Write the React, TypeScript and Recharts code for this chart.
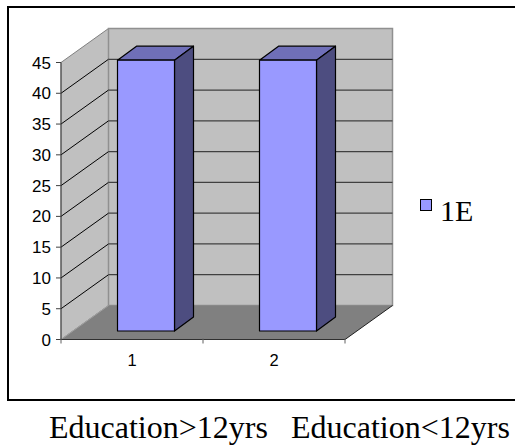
import { Bar, BarChart, CartesianGrid, Legend, XAxis, YAxis } from "recharts";

// Survey result per group, drawn as old-style 3D columns
const categories = ["1", "2"];
const seriesName = "1E";
const seriesValues = [44, 44];
const yTicks = [0, 5, 10, 15, 20, 25, 30, 35, 40, 45];
const groupLabels = ["Education>12yrs", "Education<12yrs"];

const data = categories.map((name, i) => ({ name, value: seriesValues[i] }));

// Depth of the chart box and how far into it the columns stand
const DEPTH_X = 47.5;
const DEPTH_Y = 34;
const BAR_DX = 13.5;
const BAR_DY = 8.5;
const BAR_DEPTH_X = 19;
const BAR_DEPTH_Y = 14;

const pts = (list: number[][]) => list.map((p) => p.join(",")).join(" ");

// Left wall, back wall and floor of the box, painted once behind the gridlines
const Walls = ({ x, y, width, height, index }: any) => {
  if (index !== 0) return null;
  const b = y + height;
  const r = x + width;
  return (
    <g>
      <polygon
        points={pts([[x, y], [x + DEPTH_X, y - DEPTH_Y], [x + DEPTH_X, b - DEPTH_Y], [x, b]])}
        fill="#c0c0c0"
        stroke="#808080"
      />
      <polygon
        points={pts([[x + DEPTH_X, y - DEPTH_Y], [r + DEPTH_X, y - DEPTH_Y], [r + DEPTH_X, b - DEPTH_Y], [x + DEPTH_X, b - DEPTH_Y]])}
        fill="#c0c0c0"
        stroke="#909090"
        strokeWidth={1.5}
      />
      <polygon
        points={pts([[x, b], [x + DEPTH_X, b - DEPTH_Y], [r + DEPTH_X, b - DEPTH_Y], [r, b]])}
        fill="#808080"
      />
      <line x1={x} y1={b} x2={x + DEPTH_X} y2={b - DEPTH_Y} stroke="#a0a0a0" />
      <line x1={r} y1={b} x2={r + DEPTH_X} y2={b - DEPTH_Y} stroke="#202020" />
    </g>
  );
};

// Gridline running along the left wall and across the back wall
const WallGridLine = ({ x1, x2, y1, y, height }: any) => {
  if (y1 <= y + 0.5 || y1 >= y + height - 0.5) return null;
  return (
    <g fill="none">
      <line x1={x1} y1={y1} x2={x1 + DEPTH_X} y2={y1 - DEPTH_Y} stroke="#000000" />
      <line x1={x1 + DEPTH_X} y1={y1 - DEPTH_Y} x2={x2 + DEPTH_X} y2={y1 - DEPTH_Y} stroke="#404040" strokeWidth={1.2} />
    </g>
  );
};

const Column3D = ({ x, y, width, height }: any) => {
  const fx = x + BAR_DX;
  const fy = y - BAR_DY;
  const r = fx + width;
  const b = fy + height;
  const dx = BAR_DEPTH_X;
  const dy = BAR_DEPTH_Y;
  return (
    <g stroke="#000000" strokeWidth={1.2} strokeLinejoin="round">
      <polygon points={pts([[fx, fy], [fx + dx, fy - dy], [r + dx, fy - dy], [r, fy]])} fill="#6f6fb8" />
      <polygon points={pts([[r, fy], [r + dx, fy - dy], [r + dx, b - dy], [r, b]])} fill="#4d4d80" />
      <rect x={fx} y={fy} width={width} height={height} fill="#9999ff" />
    </g>
  );
};

// Category tick: label under the middle of the band, tick marks on the band edges
const BandTick = ({ x, y, payload, index }: any) => {
  const half = 71;
  return (
    <g>
      <line x1={x - half} y1={y - 9} x2={x - half} y2={y - 4} stroke="#606060" />
      {index === categories.length - 1 && (
        <line x1={x + half} y1={y - 9} x2={x + half} y2={y - 4} stroke="#606060" />
      )}
      <text x={x} y={y + 18.5} textAnchor="middle" fontFamily="Liberation Sans" fontSize={16.5} fill="#000000">
        {payload.value}
      </text>
    </g>
  );
};

const SeriesKey = () => (
  <div style={{ position: "relative", fontFamily: "Liberation Serif", fontSize: 30, lineHeight: "30px", color: "#000000", paddingLeft: 20 }}>
    <span
      style={{
        position: "absolute",
        left: 0,
        top: 3,
        width: 12,
        height: 12,
        boxSizing: "border-box",
        background: "#9999ff",
        border: "1.5px solid #000000",
      }}
    />
    {seriesName}
  </div>
);

const App = () => {
  return (
    <div style={{ position: "absolute", left: 0, top: 0, width: 515, height: 446, background: "#ffffff", overflow: "hidden" }}>
      <div
        style={{
          position: "absolute",
          left: 7,
          top: 6,
          width: 520,
          height: 395,
          border: "2px solid #000000",
          boxSizing: "border-box",
        }}
      />
      <BarChart
        width={515}
        height={446}
        data={data}
        margin={{ top: 62.5, right: 100, left: 0, bottom: 76.5 }}
        barSize={57}
        style={{ position: "absolute", left: 0, top: 0 }}
      >
        <CartesianGrid vertical={false} horizontal={(props: any) => <Walls {...props} />} />
        <CartesianGrid vertical={false} horizontal={(props: any) => <WallGridLine {...props} />} />
        <YAxis
          width={61}
          domain={[0, 45]}
          ticks={yTicks}
          interval={0}
          tickSize={5}
          tickMargin={5}
          stroke="#404040"
          tick={{ fontFamily: "Liberation Sans", fontSize: 17, fill: "#000000" }}
        />
        <XAxis dataKey="name" tickLine={false} stroke="#303030" tick={<BandTick />} interval={0} />
        <Bar dataKey="value" name={seriesName} shape={<Column3D />} isAnimationActive={false} />
        <Legend
          layout="vertical"
          align="right"
          verticalAlign="top"
          content={<SeriesKey />}
          wrapperStyle={{ left: 420, top: 196, width: 70 }}
        />
      </BarChart>
      <div
        style={{
          position: "absolute",
          left: 0,
          top: 411,
          width: 515,
          fontFamily: "Liberation Serif",
          fontSize: 32,
          lineHeight: "32px",
          color: "#000000",
          whiteSpace: "pre",
        }}
      >
        <span style={{ position: "absolute", left: 49 }}>{groupLabels[0]}</span>
        <span style={{ position: "absolute", left: 291 }}>{groupLabels[1]}</span>
      </div>
    </div>
  );
};

export default App;
